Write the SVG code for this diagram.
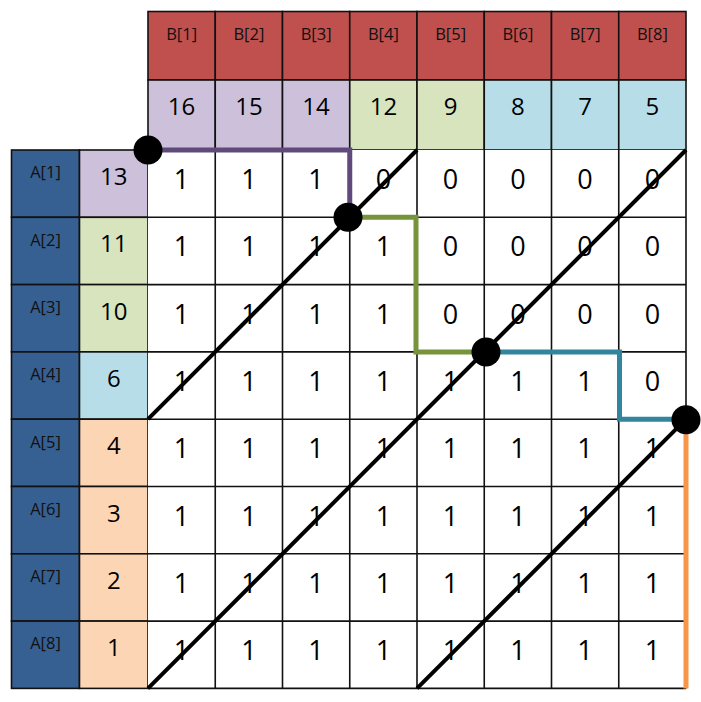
<svg xmlns="http://www.w3.org/2000/svg" width="701" height="702" viewBox="0 0 701 702">
<style>
.c{stroke:#111;stroke-width:1.6}
.bl{fill:#C0504D}
.al{fill:#376092}
.pu{fill:#CCC0DA}
.gr{fill:#D7E4BD}
.bu{fill:#B7DEE8}
.pe{fill:#FCD5B5}
.w{fill:#fff}
.lab{font-family:"Open Sans","Liberation Sans",Arial,sans-serif;font-size:16.5px;fill:#111;text-anchor:middle}
.num{font-family:"Open Sans","Liberation Sans",Arial,sans-serif;font-size:24px;fill:#000;text-anchor:middle}
.m{font-family:"Open Sans","Liberation Sans",Arial,sans-serif;font-size:27px;fill:#000;text-anchor:middle}
.diag{stroke:#000;stroke-width:4;fill:none}
.pth{fill:none;stroke-width:5}
</style>
<rect width="701" height="702" fill="#fff"/>
<g id="b-labels">
<rect class="c bl" x="148" y="11.5" width="67.25" height="68.5"/>
<rect class="c bl" x="215.25" y="11.5" width="67.25" height="68.5"/>
<rect class="c bl" x="282.5" y="11.5" width="67.25" height="68.5"/>
<rect class="c bl" x="349.75" y="11.5" width="67.25" height="68.5"/>
<rect class="c bl" x="417" y="11.5" width="67.25" height="68.5"/>
<rect class="c bl" x="484.25" y="11.5" width="67.25" height="68.5"/>
<rect class="c bl" x="551.5" y="11.5" width="67.25" height="68.5"/>
<rect class="c bl" x="618.75" y="11.5" width="67.25" height="68.5"/>
<text class="lab" x="181.6" y="40">B[1]</text>
<text class="lab" x="248.9" y="40">B[2]</text>
<text class="lab" x="316.1" y="40">B[3]</text>
<text class="lab" x="383.4" y="40">B[4]</text>
<text class="lab" x="450.6" y="40">B[5]</text>
<text class="lab" x="517.9" y="40">B[6]</text>
<text class="lab" x="585.1" y="40">B[7]</text>
<text class="lab" x="652.4" y="40">B[8]</text>
</g>
<g id="b-values">
<rect class="c pu" x="148" y="80" width="67.25" height="70"/>
<rect class="c pu" x="215.25" y="80" width="67.25" height="70"/>
<rect class="c pu" x="282.5" y="80" width="67.25" height="70"/>
<rect class="c gr" x="349.75" y="80" width="67.25" height="70"/>
<rect class="c gr" x="417" y="80" width="67.25" height="70"/>
<rect class="c bu" x="484.25" y="80" width="67.25" height="70"/>
<rect class="c bu" x="551.5" y="80" width="67.25" height="70"/>
<rect class="c bu" x="618.75" y="80" width="67.25" height="70"/>
<text class="num" x="181.6" y="115">16</text>
<text class="num" x="248.9" y="115">15</text>
<text class="num" x="316.1" y="115">14</text>
<text class="num" x="383.4" y="115">12</text>
<text class="num" x="450.6" y="115">9</text>
<text class="num" x="517.9" y="115">8</text>
<text class="num" x="585.1" y="115">7</text>
<text class="num" x="652.4" y="115">5</text>
</g>
<g id="a-labels">
<rect class="c al" x="11.5" y="150" width="68" height="67.3"/>
<rect class="c al" x="11.5" y="217.3" width="68" height="67.3"/>
<rect class="c al" x="11.5" y="284.6" width="68" height="67.3"/>
<rect class="c al" x="11.5" y="351.9" width="68" height="67.3"/>
<rect class="c al" x="11.5" y="419.2" width="68" height="67.3"/>
<rect class="c al" x="11.5" y="486.5" width="68" height="67.3"/>
<rect class="c al" x="11.5" y="553.8" width="68" height="67.3"/>
<rect class="c al" x="11.5" y="621.1" width="68" height="67.3"/>
<text class="lab" x="45.5" y="178.3">A[1]</text>
<text class="lab" x="45.5" y="245.6">A[2]</text>
<text class="lab" x="45.5" y="312.9">A[3]</text>
<text class="lab" x="45.5" y="380.2">A[4]</text>
<text class="lab" x="45.5" y="447.5">A[5]</text>
<text class="lab" x="45.5" y="514.8">A[6]</text>
<text class="lab" x="45.5" y="582.1">A[7]</text>
<text class="lab" x="45.5" y="649.4">A[8]</text>
</g>
<g id="a-values">
<rect class="c pu" x="79.5" y="150" width="68.5" height="67.3"/>
<rect class="c gr" x="79.5" y="217.3" width="68.5" height="67.3"/>
<rect class="c gr" x="79.5" y="284.6" width="68.5" height="67.3"/>
<rect class="c bu" x="79.5" y="351.9" width="68.5" height="67.3"/>
<rect class="c pe" x="79.5" y="419.2" width="68.5" height="67.3"/>
<rect class="c pe" x="79.5" y="486.5" width="68.5" height="67.3"/>
<rect class="c pe" x="79.5" y="553.8" width="68.5" height="67.3"/>
<rect class="c pe" x="79.5" y="621.1" width="68.5" height="67.3"/>
<text class="num" x="113.8" y="185">13</text>
<text class="num" x="113.8" y="252.3">11</text>
<text class="num" x="113.8" y="319.6">10</text>
<text class="num" x="113.8" y="386.9">6</text>
<text class="num" x="113.8" y="454.2">4</text>
<text class="num" x="113.8" y="521.5">3</text>
<text class="num" x="113.8" y="588.8">2</text>
<text class="num" x="113.8" y="656.1">1</text>
</g>
<g id="matrix">
<rect class="w" x="148" y="150" width="538" height="538.4"/>
<g class="c" fill="none">
<path d="M215.25 150V688.4M282.5 150V688.4M349.75 150V688.4M417 150V688.4M484.25 150V688.4M551.5 150V688.4M618.75 150V688.4M686 150V688.4"/>
<path d="M148 217.3H686M148 284.6H686M148 351.9H686M148 419.2H686M148 486.5H686M148 553.8H686M148 621.1H686M148 688.4H686"/>
</g>
<g>
<text class="m" x="181.6" y="189">1</text><text class="m" x="248.9" y="189">1</text><text class="m" x="316.1" y="189">1</text><text class="m" x="383.4" y="189">0</text><text class="m" x="450.6" y="189">0</text><text class="m" x="517.9" y="189">0</text><text class="m" x="585.1" y="189">0</text><text class="m" x="652.4" y="189">0</text>
<text class="m" x="181.6" y="256.3">1</text><text class="m" x="248.9" y="256.3">1</text><text class="m" x="316.1" y="256.3">1</text><text class="m" x="383.4" y="256.3">1</text><text class="m" x="450.6" y="256.3">0</text><text class="m" x="517.9" y="256.3">0</text><text class="m" x="585.1" y="256.3">0</text><text class="m" x="652.4" y="256.3">0</text>
<text class="m" x="181.6" y="323.6">1</text><text class="m" x="248.9" y="323.6">1</text><text class="m" x="316.1" y="323.6">1</text><text class="m" x="383.4" y="323.6">1</text><text class="m" x="450.6" y="323.6">0</text><text class="m" x="517.9" y="323.6">0</text><text class="m" x="585.1" y="323.6">0</text><text class="m" x="652.4" y="323.6">0</text>
<text class="m" x="181.6" y="390.9">1</text><text class="m" x="248.9" y="390.9">1</text><text class="m" x="316.1" y="390.9">1</text><text class="m" x="383.4" y="390.9">1</text><text class="m" x="450.6" y="390.9">1</text><text class="m" x="517.9" y="390.9">1</text><text class="m" x="585.1" y="390.9">1</text><text class="m" x="652.4" y="390.9">0</text>
<text class="m" x="181.6" y="458.2">1</text><text class="m" x="248.9" y="458.2">1</text><text class="m" x="316.1" y="458.2">1</text><text class="m" x="383.4" y="458.2">1</text><text class="m" x="450.6" y="458.2">1</text><text class="m" x="517.9" y="458.2">1</text><text class="m" x="585.1" y="458.2">1</text><text class="m" x="652.4" y="458.2">1</text>
<text class="m" x="181.6" y="525.5">1</text><text class="m" x="248.9" y="525.5">1</text><text class="m" x="316.1" y="525.5">1</text><text class="m" x="383.4" y="525.5">1</text><text class="m" x="450.6" y="525.5">1</text><text class="m" x="517.9" y="525.5">1</text><text class="m" x="585.1" y="525.5">1</text><text class="m" x="652.4" y="525.5">1</text>
<text class="m" x="181.6" y="592.8">1</text><text class="m" x="248.9" y="592.8">1</text><text class="m" x="316.1" y="592.8">1</text><text class="m" x="383.4" y="592.8">1</text><text class="m" x="450.6" y="592.8">1</text><text class="m" x="517.9" y="592.8">1</text><text class="m" x="585.1" y="592.8">1</text><text class="m" x="652.4" y="592.8">1</text>
<text class="m" x="181.6" y="660.1">1</text><text class="m" x="248.9" y="660.1">1</text><text class="m" x="316.1" y="660.1">1</text><text class="m" x="383.4" y="660.1">1</text><text class="m" x="450.6" y="660.1">1</text><text class="m" x="517.9" y="660.1">1</text><text class="m" x="585.1" y="660.1">1</text><text class="m" x="652.4" y="660.1">1</text>
</g>
</g>
<g id="connectors">
<path class="pth" stroke="#604A7B" d="M148 150H349.75V217.3"/>
<path class="pth" stroke="#77933C" d="M349.75 217.3H416V351.9H486"/>
<path class="pth" stroke="#31859C" d="M486 351.9H619.5V419.2H686"/>
<path class="pth" stroke="#F79646" d="M686 419.2V688.4"/>
<path class="diag" d="M148 419.2L417 150"/>
<path class="diag" d="M148 688.4L686 150"/>
<path class="diag" d="M417 688.4L686 419.2"/>
<g fill="#000">
<circle cx="148" cy="150" r="14.5"/>
<circle cx="348" cy="217.3" r="14.5"/>
<circle cx="486" cy="351.9" r="14.5"/>
<circle cx="686" cy="419.8" r="14.5"/>
</g>
</g>
</svg>
